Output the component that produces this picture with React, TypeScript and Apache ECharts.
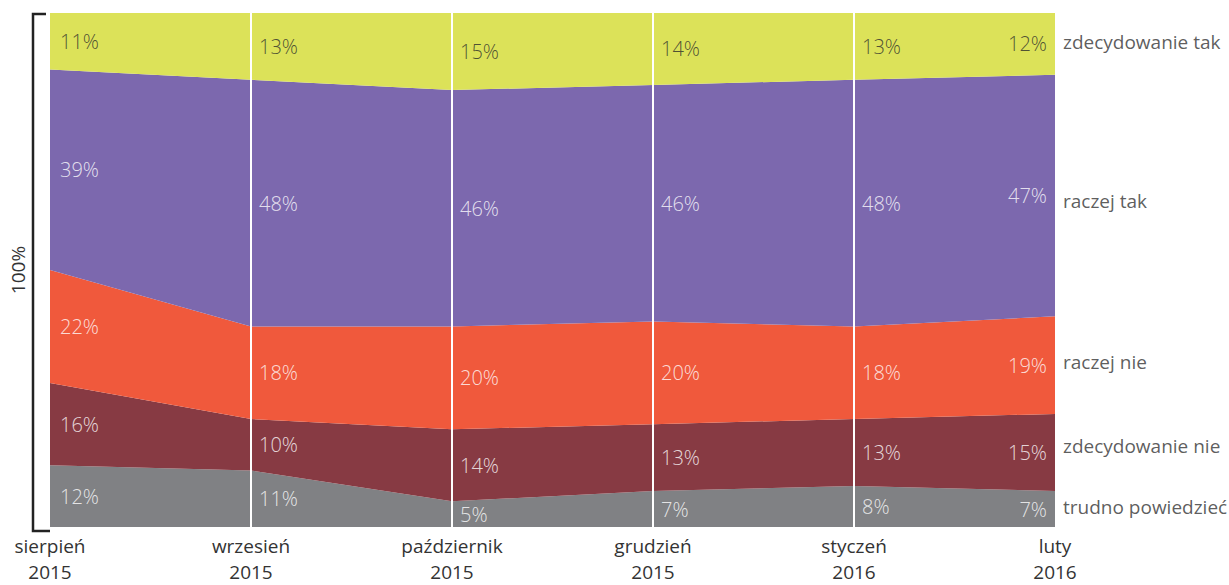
import React, { useEffect, useRef } from "react";
import * as echarts from "echarts";

const categories = ["sierpień\n2015", "wrzesień\n2015", "październik\n2015", "grudzień\n2015", "styczeń\n2016", "luty\n2016"];
const seriesNames = ["trudno powiedzieć", "zdecydowanie nie", "raczej nie", "raczej tak", "zdecydowanie tak"];
const trudno = [12, 11, 5, 7, 8, 7];
const zdecydowanieNie = [16, 10, 14, 13, 13, 15];
const raczejNie = [22, 18, 20, 20, 18, 19];
const raczejTak = [39, 48, 46, 46, 48, 47];
const zdecydowanieTak = [11, 13, 15, 14, 13, 12];
const colors = ["#808184", "#873A43", "#F0593C", "#7C68AE", "#DCE259"];
const labelColors = ["#ffffff", "#ffffff", "#ffffff", "#ffffff", "#2a2a2a"];

const FONT = "'Open Sans', sans-serif";

export default function App() {
  const ref = useRef<HTMLDivElement>(null);
  useEffect(() => {
    if (!ref.current) return;
    const chart = echarts.init(ref.current, null, { renderer: "svg" });
    const data = [trudno, zdecydowanieNie, raczejNie, raczejTak, zdecydowanieTak];
    const n = categories.length;
    const last = n - 1;

    const areaSeries: any[] = data.map((d, k) => ({
      type: "line",
      name: seriesNames[k],
      stack: "total",
      data: d,
      symbol: "none",
      lineStyle: { width: 0 },
      areaStyle: { color: colors[k], opacity: 1 },
      z: 2,
    }));

    areaSeries[areaSeries.length - 1].markLine = {
      silent: true,
      symbol: ["none", "none"],
      label: { show: false },
      lineStyle: { color: "#ffffff", width: 2, type: "solid" },
      data: [1, 2, 3, 4].map((i) => ({ xAxis: i })),
      z: 5,
    };

    const labelSeries: any[] = data.map((d, k) => ({
      type: "scatter",
      symbolSize: 0,
      silent: true,
      z: 6,
      data: d.map((v, i) => {
        let below = 0;
        for (let j = 0; j < k; j++) below += data[j][i];
        return {
          value: [i, below + v / 2],
          label: {
            show: true,
            position: i === last ? "left" : "right",
            distance: i === 0 ? 10 : 8,
            formatter: v + "%",
            color: labelColors[k],
            fontSize: 20,
            fontWeight: 300,
            fontFamily: FONT,
          },
        };
      }),
    }));

    const nameOffsets = [-2, -6, -3, 6, -2];
    const nameSeries: any = {
      type: "scatter",
      symbolSize: 0,
      silent: true,
      z: 6,
      data: data.map((d, k) => {
        let below = 0;
        for (let j = 0; j < k; j++) below += data[j][last];
        return {
          value: [last, below + d[last] / 2],
          label: {
            show: true,
            position: "right",
            distance: 8,
            offset: [0, nameOffsets[k]],
            formatter: seriesNames[k],
            color: "#333333",
            fontSize: 19,
            fontFamily: FONT,
          },
        };
      }),
    };

    chart.setOption({
      animation: false,
      grid: { left: 50, right: 174, top: 13, bottom: 53, containLabel: false },
      xAxis: {
        type: "category",
        boundaryGap: false,
        data: categories,
        axisLine: { show: false },
        axisTick: { show: false },
        splitLine: { show: false },
        axisLabel: {
          color: "#333333",
          fontSize: 19,
          lineHeight: 26,
          fontFamily: FONT,
          margin: 6,
          interval: 0,
        },
      },
      yAxis: { type: "value", min: 0, max: 100, show: false },
      series: [...areaSeries, ...labelSeries, nameSeries],
      graphic: [
        {
          type: "polyline",
          shape: { points: [[46, 14], [33, 14], [33, 531], [50, 531]] },
          style: { stroke: "#222222", lineWidth: 2.5, fill: null },
        },
        {
          type: "text",
          x: 18,
          y: 270,
          rotation: Math.PI / 2,
          style: {
            text: "100%",
            fontSize: 19,
            fontFamily: FONT,
            fill: "#333333",
            align: "center",
            verticalAlign: "middle",
          },
        },
      ],
    });
    return () => chart.dispose();
  }, []);
  return <div ref={ref} style={{ width: 1229, height: 585, position: "absolute", left: 0, top: 0 }} />;
}
